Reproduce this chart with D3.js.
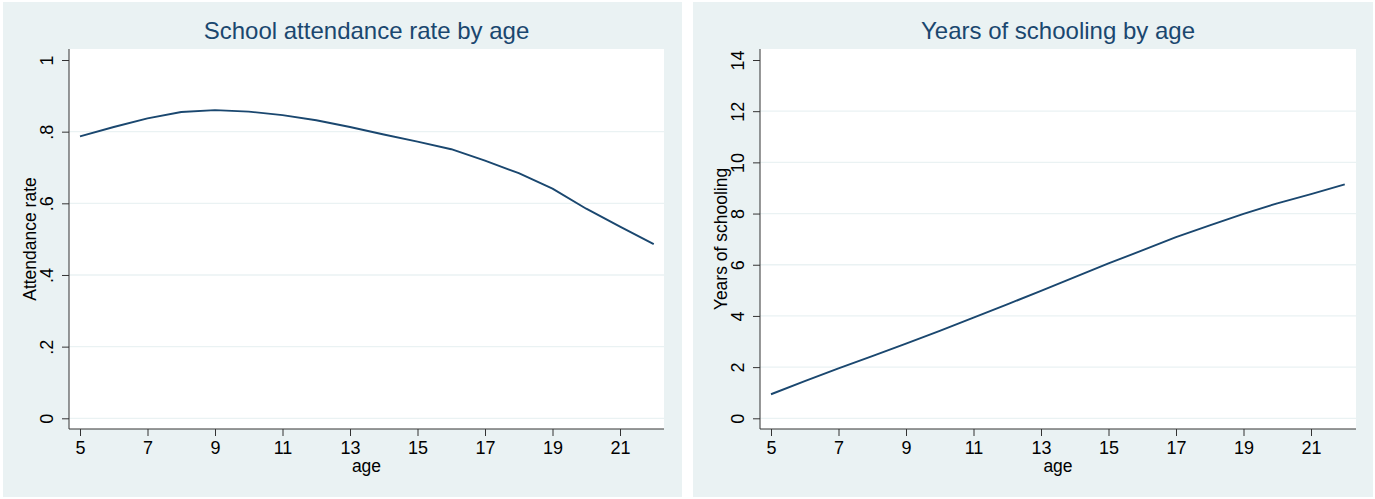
<!DOCTYPE html>
<html>
<head>
<meta charset="utf-8">
<script src="https://cdn.jsdelivr.net/npm/d3@7"></script>
<style>
  html, body { margin: 0; padding: 0; background: #ffffff; }
  svg { display: block; }
  text { font-family: "Liberation Sans", Arial, sans-serif; }
</style>
</head>
<body>
<svg id="chart" width="1375" height="499"></svg>
<script>
// ---- data ----
const ages = [5, 6, 7, 8, 9, 10, 11, 12, 13, 14, 15, 16, 17, 18, 19, 20, 21, 22];
const attendanceRate = [0.787, 0.813, 0.837, 0.855, 0.860, 0.856, 0.846, 0.832, 0.813, 0.792, 0.772, 0.751, 0.719, 0.684, 0.641, 0.585, 0.535, 0.486];
const yearsSchooling = [0.94, 1.45, 1.95, 2.43, 2.92, 3.42, 3.93, 4.45, 4.98, 5.52, 6.05, 6.56, 7.08, 7.54, 7.99, 8.40, 8.76, 9.14];
const xTicks = [5, 7, 9, 11, 13, 15, 17, 19, 21];
const attendanceTicks = [0, 0.2, 0.4, 0.6, 0.8, 1];
const attendanceTickLabels = ["0", ".2", ".4", ".6", ".8", "1"];
const schoolingTicks = [0, 2, 4, 6, 8, 10, 12, 14];
const schoolingTickLabels = ["0", "2", "4", "6", "8", "10", "12", "14"];
const titles = ["School attendance rate by age", "Years of schooling by age"];
const yTitles = ["Attendance rate", "Years of schooling"];
const xTitle = "age";

const BG = "#eaf2f3";
const LINE = "#1a476f";

const svg = d3.select("#chart");

function drawPanel(p) {
  const g = svg.append("g");
  // panel background
  g.append("rect").attr("x", p.bx0).attr("y", 2).attr("width", p.bx1 - p.bx0).attr("height", 495).attr("fill", BG);
  // plot region
  g.append("rect").attr("x", p.px0).attr("y", 49).attr("width", p.px1 - p.px0).attr("height", 380).attr("fill", "#ffffff");

  const x = d3.scaleLinear().domain([5, 22]).range([p.px0 + 11, p.px0 + 11 + 17 * 33.75]);
  const y = d3.scaleLinear().domain(p.yDomain).range([418.3, 60]);

  // gridlines
  g.append("g").selectAll("line").data(p.yTicks.slice(0, -1)).join("line")
    .attr("x1", p.px0).attr("x2", p.px1)
    .attr("y1", d => y(d)).attr("y2", d => y(d))
    .attr("stroke", BG).attr("stroke-width", 1.3);

  // y axis
  const yAxis = d3.axisLeft(y).tickValues(p.yTicks).tickSize(7).tickPadding(8)
    .tickFormat((d, i) => p.yLabels[i]);
  const ya = g.append("g").attr("transform", `translate(${p.px0},0)`).call(yAxis);
  ya.select(".domain").attr("d", `M0,49V429`).attr("stroke", "#333");
  ya.selectAll(".tick line").attr("stroke", "#333");
  ya.selectAll(".tick text")
    .attr("x", null).attr("dy", null)
    .attr("transform", "translate(-16,0) rotate(-90)")
    .attr("text-anchor", "middle")
    .attr("font-size", 18).attr("fill", "#000");

  // x axis
  const xAxis = d3.axisBottom(x).tickValues(xTicks).tickSize(7).tickPadding(4);
  const xa = g.append("g").attr("transform", `translate(0,429)`).call(xAxis);
  xa.select(".domain").attr("d", `M${p.px0},0H${p.px1}`).attr("stroke", "#333");
  xa.selectAll(".tick line").attr("stroke", "#333");
  xa.selectAll(".tick text").attr("dy", null).attr("y", 24.5).attr("font-size", 18).attr("fill", "#000");

  // line
  const line = d3.line().x((d, i) => x(ages[i])).y(d => y(d));
  g.append("path").datum(p.values).attr("d", line)
    .attr("fill", "none").attr("stroke", LINE).attr("stroke-width", 1.9).attr("stroke-linejoin", "round");

  // titles
  const cx = (p.px0 + p.px1) / 2;
  g.append("text").attr("x", cx).attr("y", 38.5).attr("text-anchor", "middle")
    .attr("font-size", 24).attr("fill", LINE).text(p.title);
  g.append("text").attr("x", cx).attr("y", 472).attr("text-anchor", "middle")
    .attr("font-size", 17.5).attr("fill", "#000").text(xTitle);
  g.append("text").attr("transform", `translate(${p.px0 - 33},239) rotate(-90)`).attr("text-anchor", "middle")
    .attr("font-size", 17.5).attr("fill", "#000").text(p.yTitle);
}

drawPanel({ bx0: 3, bx1: 682, px0: 69, px1: 664, yDomain: [0, 1], yTicks: attendanceTicks, yLabels: attendanceTickLabels,
  values: attendanceRate, title: titles[0], yTitle: yTitles[0] });
drawPanel({ bx0: 693, bx1: 1373, px0: 760, px1: 1356, yDomain: [0, 14], yTicks: schoolingTicks, yLabels: schoolingTickLabels,
  values: yearsSchooling, title: titles[1], yTitle: yTitles[1] });
</script>
</body>
</html>
